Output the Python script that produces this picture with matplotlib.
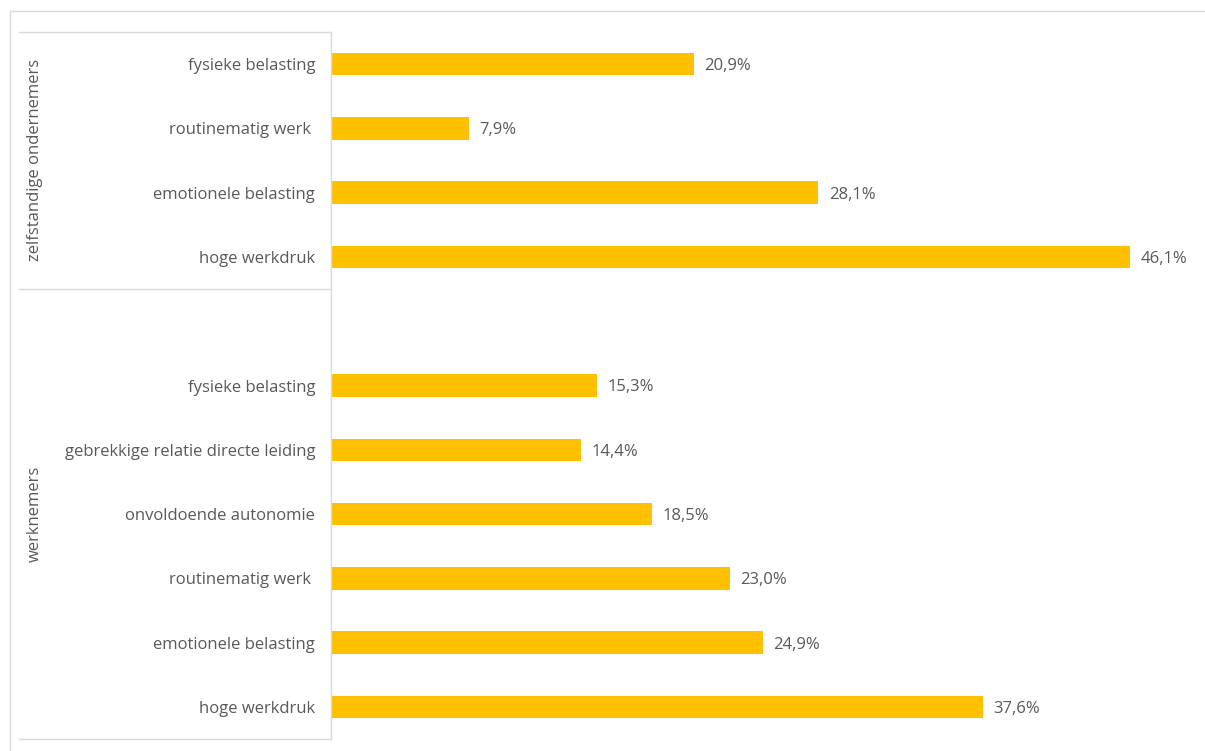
import matplotlib
matplotlib.use("Agg")
import matplotlib.pyplot as plt
from matplotlib.lines import Line2D

plt.rcParams['font.family'] = ['Open Sans', 'DejaVu Sans']

# data, top to bottom
groups = ['zelfstandige ondernemers', 'werknemers']
zelf_labels = ['fysieke belasting', 'routinematig werk ', 'emotionele belasting', 'hoge werkdruk']
zelf_values = [20.9, 7.9, 28.1, 46.1]
werk_labels = ['fysieke belasting', 'gebrekkige relatie directe leiding', 'onvoldoende autonomie',
               'routinematig werk ', 'emotionele belasting', 'hoge werkdruk']
werk_values = [15.3, 14.4, 18.5, 23.0, 24.9, 37.6]

bar_color = '#FFC000'
text_color = '#595959'
line_color = '#D9D9D9'
fs = 12

W, H = 1205, 751
fig = plt.figure(figsize=(W / 100, H / 100), dpi=100)

# axes spans the label box vertically (y 32..739 px), bars start at x 332 px
ax = fig.add_axes([332 / W, 1 - 739 / H, (W - 332) / W, (739 - 32) / H])

labels = zelf_labels + [''] + werk_labels
values = zelf_values + [None] + werk_values
n = len(labels)
pos = list(range(n))

for p, lab, v in zip(pos, labels, values):
    if v is None:
        continue
    ax.barh(p, v, height=0.35, color=bar_color)
    ax.text(v + 0.6, p + 0.03, f"{v:.1f}%".replace('.', ','), va='center', ha='left',
            fontsize=fs, color=text_color)

ax.set_ylim(n - 0.5, -0.5)
ax.set_xlim(0, (W - 332) / 17.31)
ax.set_yticks([p for p, v in zip(pos, values) if v is not None])
ax.set_yticklabels([l for l, v in zip(labels, values) if v is not None])
ax.tick_params(axis='y', length=0, pad=12, labelsize=fs, labelcolor=text_color)
ax.set_xticks([])
for s in ax.spines.values():
    s.set_visible(False)

# frame and group box lines (pixel coords converted to figure fraction)
def hline(y, x0, x1):
    fig.add_artist(Line2D([x0 / W, x1 / W], [1 - y / H, 1 - y / H], color=line_color, lw=1))

def vline(x, y0, y1):
    fig.add_artist(Line2D([x / W, x / W], [1 - y0 / H, 1 - y1 / H], color=line_color, lw=1))

hline(11, 10, W)
vline(10, 11, H)
hline(32, 19, 331)
hline(289, 19, 331)
hline(739, 19, 331)
vline(331, 32, 739)

# group labels
fig.text(35 / W, 1 - 160 / H, groups[0], rotation=90, va='center', ha='center',
         fontsize=fs, color=text_color)
fig.text(35 / W, 1 - 514 / H, groups[1], rotation=90, va='center', ha='center',
         fontsize=fs, color=text_color)

fig.savefig('out.png', dpi=100)
